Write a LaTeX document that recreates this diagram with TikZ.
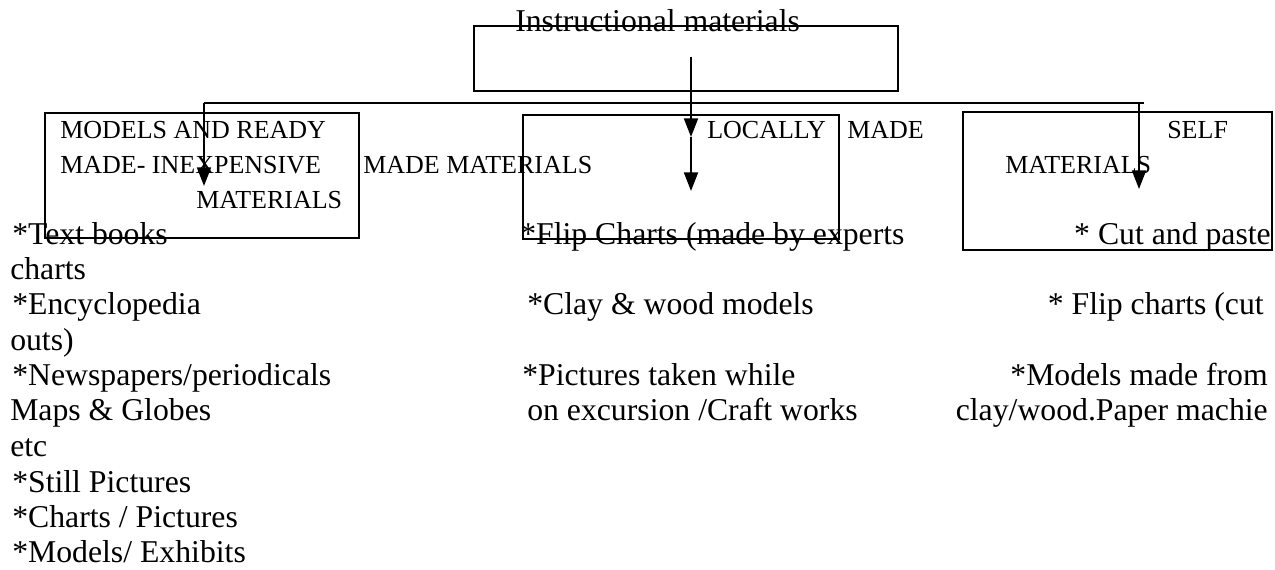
\documentclass[tikz,border=0pt]{standalone}
\usepackage{fontspec}
\setmainfont{Liberation Serif}
\usetikzlibrary{arrows.meta, fit}

\begin{document}
\begin{tikzpicture}[x=0.75pt, y=-0.75pt,
  box/.style={draw, line width=1.5pt, inner sep=0pt},
  txt/.style={inner sep=0pt, anchor=base west, font=\fontsize{23.8}{26}\selectfont},
  boxtxt/.style={txt, font=\fontsize{19.5}{26}\selectfont},
  arr/.style={line width=1.5pt, -{Triangle[length=14pt, width=10.5pt]}}]
  \useasboundingbox (0,0) rectangle (1275,570);

  % boxes
  \node[box, fit={(474,26) (898,91)}]   (topbox)    {};
  \node[box, fit={(45,113) (359,238)}]  (modelsbox) {};
  \node[box, fit={(523,115) (839,239)}] (localbox)  {};
  \node[box, fit={(963,112) (1272,250)}] (selfbox)  {};

  \node[txt] (title) at (515,32) {Instructional materials};

  % box labels
  \node[boxtxt] (models1) at (60,139)   {MODELS AND READY};
  \node[boxtxt] (models2) at (60,174)   {MADE- INEXPENSIVE};
  \node[boxtxt] (models3) at (196,209)  {MATERIALS};
  \node[boxtxt] (local1)  at (707,139)  {LOCALLY};
  \node[boxtxt] (local2)  at (847,139)  {MADE};
  \node[boxtxt] (local3)  at (363,174)  {MADE MATERIALS};
  \node[boxtxt] (self1)   at (1167,139) {SELF};
  \node[boxtxt] (self2)   at (1005,174) {MATERIALS};

  % connectors
  \coordinate (mstart)  at (691,57);
  \coordinate (mtip)    at (691,137);
  \coordinate (mend)    at (691,191);
  \coordinate (lbranch) at (204,103);
  \coordinate (ltip)    at (204,186);
  \coordinate (rbranch) at (1139,103);
  \coordinate (rend)    at (1144,103);
  \coordinate (rtip)    at (1139,189);
  \draw[line width=1.5pt] (lbranch) -- (rend);
  \draw[arr] (mstart) -- (mtip);
  \draw[arr] (mtip) -- (mend);
  \draw[arr] (lbranch) -- (ltip);
  \draw[arr] (rbranch) -- (rtip);

  % first column
  \node[txt] (l0) at (12,245)  {*Text books};
  \node[txt] (l1) at (10,280)  {charts};
  \node[txt] (l2) at (12,315)  {*Encyclopedia};
  \node[txt] (l3) at (10,351)  {outs)};
  \node[txt] (l4) at (12,386)  {*Newspapers/periodicals};
  \node[txt] (l5) at (10,421)  {Maps \& Globes};
  \node[txt] (l6) at (10,456)  {etc};
  \node[txt] (l7) at (12,492)  {*Still Pictures};
  \node[txt] (l8) at (12,527)  {*Charts / Pictures};
  \node[txt] (l9) at (12,562)  {*Models/ Exhibits};

  % second column
  \node[txt] (m0) at (520,245) {*Flip Charts (made by experts};
  \node[txt] (m2) at (527,315) {*Clay \& wood models};
  \node[txt] (m4) at (522,386) {*Pictures taken while};
  \node[txt] (m5) at (527,421) {on excursion /Craft works};

  % third column
  \node[txt, anchor=base east] (r0) at (1271,245) {* Cut and paste};
  \node[txt, anchor=base east] (r2) at (1264,315) {* Flip charts (cut};
  \node[txt, anchor=base east] (r4) at (1268,386) {*Models made from};
  \node[txt, anchor=base east] (r5) at (1268,421) {clay/wood.Paper machie};
\end{tikzpicture}
\end{document}
